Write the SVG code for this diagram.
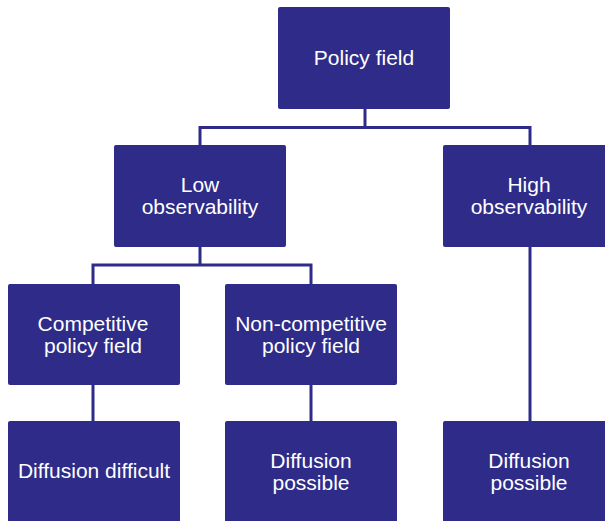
<svg xmlns="http://www.w3.org/2000/svg" width="605" height="521" viewBox="0 0 605 521">
<style>
.box{fill:#2e2c88;}
.t{fill:#ffffff;font-family:"Liberation Sans",Arial,sans-serif;font-size:21px;text-anchor:middle;}
.c{fill:none;stroke:#2e2c88;stroke-width:3;}
</style>
<rect width="605" height="521" fill="#ffffff"/>
<g id="connectors">
<path class="c" d="M365 108 V127.5 M200 145 V127.5 H530 V145"/>
<path class="c" d="M200 246 V265 M93 284 V265 H311 V284"/>
<path class="c" d="M93 384 V422 M311 384 V422 M530 246 V422"/>
</g>
<g id="policy-field">
<rect class="box" x="278" y="7" width="172" height="102" rx="2"/>
<text class="t" x="364" y="65">Policy field</text>
</g>
<g id="low-observability">
<rect class="box" x="114" y="145" width="172" height="102" rx="2"/>
<text class="t" x="200" y="192">Low</text>
<text class="t" x="200" y="214">observability</text>
</g>
<g id="high-observability">
<rect class="box" x="443" y="145" width="165" height="102" rx="2"/>
<text class="t" x="529" y="192">High</text>
<text class="t" x="529" y="214">observability</text>
</g>
<g id="competitive">
<rect class="box" x="8" y="284" width="172" height="101" rx="2"/>
<text class="t" x="93" y="331">Competitive</text>
<text class="t" x="93" y="353">policy field</text>
</g>
<g id="non-competitive">
<rect class="box" x="225" y="284" width="172" height="101" rx="2"/>
<text class="t" x="311" y="331">Non-competitive</text>
<text class="t" x="311" y="353">policy field</text>
</g>
<g id="diffusion-difficult">
<rect class="box" x="8" y="421" width="172" height="104" rx="2"/>
<text class="t" x="94" y="478">Diffusion difficult</text>
</g>
<g id="diffusion-possible-1">
<rect class="box" x="225" y="421" width="172" height="104" rx="2"/>
<text class="t" x="311" y="468">Diffusion</text>
<text class="t" x="311" y="490">possible</text>
</g>
<g id="diffusion-possible-2">
<rect class="box" x="443" y="421" width="165" height="104" rx="2"/>
<text class="t" x="529" y="468">Diffusion</text>
<text class="t" x="529" y="490">possible</text>
</g>
</svg>
